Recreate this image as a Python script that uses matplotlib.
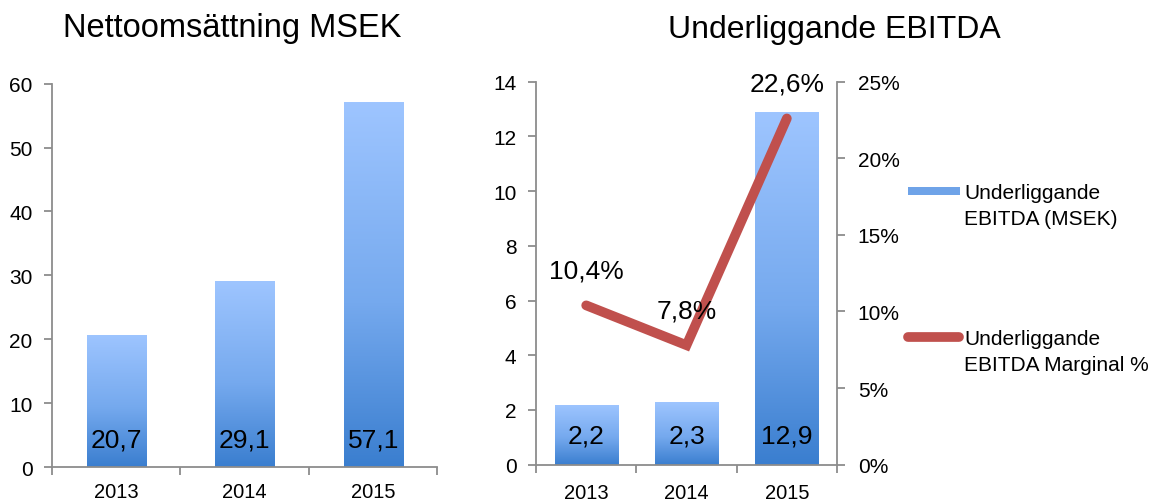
import numpy as np
import matplotlib
matplotlib.use("Agg")
import matplotlib.pyplot as plt
from matplotlib.colors import LinearSegmentedColormap
from matplotlib.patches import Rectangle
from matplotlib.lines import Line2D
from matplotlib.ticker import FuncFormatter

plt.rcParams['font.family'] = ['Liberation Sans', 'DejaVu Sans']

# Data
years = ["2013", "2014", "2015"]
net_sales = [20.7, 29.1, 57.1]          # MSEK
ebitda = [2.2, 2.3, 12.9]               # MSEK
ebitda_margin = [10.4, 7.8, 22.6]       # %
legend_labels = ["Underliggande\nEBITDA (MSEK)", "Underliggande\nEBITDA Marginal %"]

spine_col = "#8c8c8c"
red = "#c0504d"
grad = LinearSegmentedColormap.from_list(
    "bar_grad", [(0.0, "#3a7ecf"), (0.45, "#75a9ee"), (1.0, "#9ec5ff")])
gradient = np.linspace(0, 1, 256).reshape(-1, 1)

W, H = 1154, 502


def gradient_bars(ax, values, width):
    x = np.arange(len(values))
    bars = ax.bar(x, values, width=width, facecolor="none", edgecolor="none", zorder=2)
    for b in bars:
        x0, w, h = b.get_x(), b.get_width(), b.get_height()
        im = ax.imshow(gradient, extent=[x0, x0 + w, 0, h], origin="lower",
                       cmap=grad, aspect="auto", zorder=2)
        im.set_clip_path(b)
    return bars


def style_axis(ax, xpad):
    ax.set_xlim(-0.5, len(years) - 0.5)
    ax.set_xticks(range(len(years)))
    ax.set_xticklabels(years)
    ax.set_xticks(np.arange(-0.5, len(years)), minor=True)
    ax.tick_params(axis="x", which="major", length=0, pad=xpad, labelsize=14.5)
    ax.tick_params(axis="x", which="minor", length=6, width=1.3, color=spine_col)
    ax.tick_params(axis="y", length=6, width=1.3, color=spine_col, pad=8, labelsize=15)
    for s in ["top", "right"]:
        ax.spines[s].set_visible(False)
    for s in ["left", "bottom"]:
        ax.spines[s].set_color(spine_col)
        ax.spines[s].set_linewidth(1.3)


fig = plt.figure(figsize=(11.54, 5.02), dpi=100)

# Left chart: net sales
ax1 = fig.add_axes([0.0451, 0.0677, 0.3339, 0.7636])
gradient_bars(ax1, net_sales, 0.46)
style_axis(ax1, 11)
ax1.set_ylim(0, 60)
ax1.set_yticks(range(0, 61, 10))
for i, v in enumerate(net_sales):
    ax1.annotate(f"{v:.1f}".replace(".", ","), xy=(i, 0), xytext=(0, 20),
                 textcoords="offset points", ha="center", va="center",
                 fontsize=19, zorder=5)
fig.text(0.201, 0.944, "Nettoomsättning MSEK", ha="center", va="center", fontsize=23.5)

# Right chart: EBITDA + margin
ax2 = fig.add_axes([0.4645, 0.0723, 0.2608, 0.7630])
gradient_bars(ax2, ebitda, 0.63)
style_axis(ax2, 13)
ax2.set_ylim(0, 14)
ax2.set_yticks(range(0, 15, 2))
for i, v in enumerate(ebitda):
    ax2.annotate(f"{v:.1f}".replace(".", ","), xy=(i, 0), xytext=(0, 21),
                 textcoords="offset points", ha="center", va="center",
                 fontsize=19, zorder=5)

ax3 = ax2.twinx()
ax3.plot(range(len(years)), ebitda_margin, color=red, lw=7,
         solid_capstyle="round", solid_joinstyle="miter", zorder=3)
ax3.set_ylim(0, 25)
ax3.set_yticks(range(0, 26, 5))
ax3.yaxis.set_major_formatter(FuncFormatter(lambda v, p: f"{v:.0f}%"))
ax3.tick_params(axis="y", length=6, width=1.3, color=spine_col, pad=9, labelsize=15)
for s in ["top", "left", "bottom"]:
    ax3.spines[s].set_visible(False)
ax3.spines["right"].set_color(spine_col)
ax3.spines["right"].set_linewidth(1.3)
for i, v in enumerate(ebitda_margin):
    ax3.annotate(f"{v:.1f}%".replace(".", ","), xy=(i, v), xytext=(0, 25),
                 textcoords="offset points", ha="center", va="center", fontsize=19)
fig.text(0.723, 0.940, "Underliggande EBITDA", ha="center", va="center", fontsize=23)

# Legend (handle aligned with the first text line, as in the original)
blue_key = Rectangle((908 / W, 1 - 196 / H), 52 / W, 8 / H, transform=fig.transFigure,
                     facecolor="#6fa3e8", edgecolor="none")
fig.patches.append(blue_key)
red_key = Line2D([908 / W, 959 / W], [1 - 338 / H, 1 - 338 / H], transform=fig.transFigure,
                 color=red, lw=7, solid_capstyle="round")
fig.lines.append(red_key)
fig.text(964 / W, 1 - 193 / H, legend_labels[0], ha="left", va="top",
         fontsize=15, linespacing=1.45)
fig.text(964 / W, 1 - 339 / H, legend_labels[1], ha="left", va="top",
         fontsize=15, linespacing=1.45)
# shift so that the first line is centred on the key
for t in fig.texts[-2:]:
    x, y = t.get_position()
    t.set_position((x, y + 9 / H))

fig.savefig("out.png", dpi=100)
